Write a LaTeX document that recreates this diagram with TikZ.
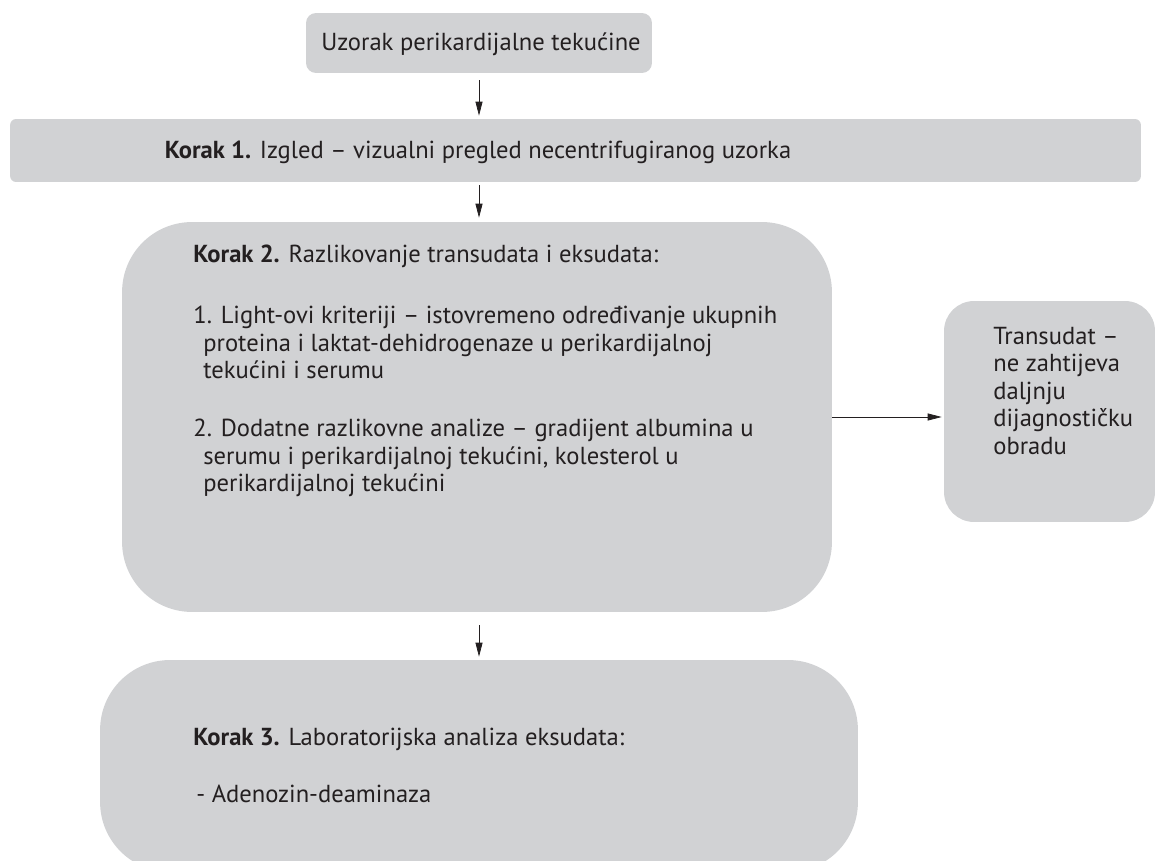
\documentclass[tikz,border=0pt]{standalone}
\usepackage{fontspec}
\setmainfont{PT Sans}
\usepackage{xcolor}
\usetikzlibrary{arrows.meta}
\definecolor{boxgray}{HTML}{D1D2D4}
\definecolor{txtgray}{HTML}{231F20}
\tikzset{
	box/.style={fill=boxgray,draw=none,inner sep=0pt},
	txt/.style={text=txtgray,inner sep=0pt,font=\fontsize{14}{15.6}\selectfont,align=left},
	arr/.style={-{Triangle[length=2.8mm,width=1.4mm]},thin,draw=txtgray}
}

\begin{document}
\begin{tikzpicture}[x=0.02cm,y=-0.02cm]
		\useasboundingbox (0,0) rectangle (1155,861);
		\node[box,rounded corners=0.2cm,minimum width=6.92cm,minimum height=1.2cm] (uzorak) at (479,43) {};
		\node[box,rounded corners=0.12cm,minimum width=22.62cm,minimum height=1.26cm] (korak1) at (575.5,150.5) {};
		\node[box,rounded corners=1.4cm,minimum width=14.2cm,minimum height=7.8cm] (korak2) at (477,417) {};
		\node[box,rounded corners=0.6cm,minimum width=4.22cm,minimum height=4.42cm] (transudat) at (1049.5,411.5) {};
		\node[box,rounded corners=1.4cm,minimum width=15.16cm,minimum height=4.24cm] (korak3) at (479,766) {};

		\node[txt,anchor=base] (t0) at (481,51) {Uzorak perikardijalne tekućine};
		\node[txt,anchor=base] (t1) at (478,159) {\textbf{Korak 1.} Izgled – vizualni pregled necentrifugiranog uzorka};
		\node[txt,anchor=base west] (t2) at (193,263) {\textbf{Korak 2.} Razlikovanje transudata i eksudata:};
		\node[txt,anchor=north west] (t2a) at (193,306) {1. Light-ovi kriteriji – istovremeno određivanje ukupnih\\
			\hspace*{0.2cm}proteina i laktat-dehidrogenaze u perikardijalnoj\\
			\hspace*{0.2cm}tekućini i serumu};
		\node[txt,anchor=north west] (t2b) at (193,419) {2. Dodatne razlikovne analize – gradijent albumina u\\
			\hspace*{0.2cm}serumu i perikardijalnoj tekućini, kolesterol u\\
			\hspace*{0.2cm}perikardijalnoj tekućini};
		\node[txt,anchor=north west] (t4) at (993,327) {Transudat –\\ne zahtijeva\\daljnju\\dijagnostičku\\obradu};
		\node[txt,anchor=base west] (t3) at (193,745) {\textbf{Korak 3.} Laboratorijska analiza eksudata:};
		\node[txt,anchor=base west] (t3a) at (196,802) {- Adenozin-deaminaza};

		\draw[arr,shorten <=7*0.02cm,shorten >=3*0.02cm] (uzorak.south) -- (uzorak.south |- korak1.north);
		\draw[arr,shorten <=3*0.02cm,shorten >=4*0.02cm] (uzorak.south |- korak1.south) -- (uzorak.south |- korak2.north);
		\draw[arr,shorten <=13*0.02cm,shorten >=3*0.02cm] (uzorak.south |- korak2.south) -- (uzorak.south |- korak3.north);
		\draw[arr,shorten >=2*0.02cm] (korak2.east) -- (korak2.east -| transudat.west);
\end{tikzpicture}
\end{document}
